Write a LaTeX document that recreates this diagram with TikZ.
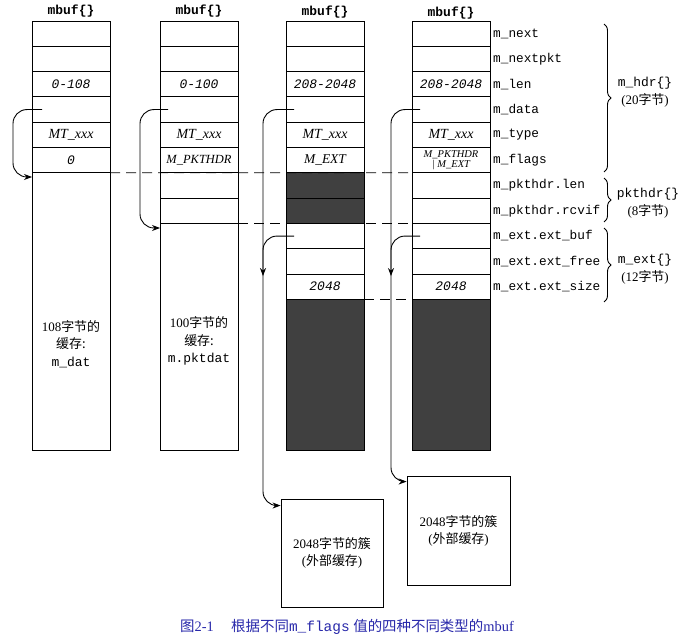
\documentclass[tikz,border=0pt]{standalone}
\usepackage{fontspec}
\setmainfont{Liberation Serif}
\setmonofont{Liberation Mono}
\newfontfamily\cjk{Noto Sans CJK SC}
\usetikzlibrary{calc,arrows.meta,decorations.pathreplacing}
\definecolor{capblue}{RGB}{40,40,170}
\begin{document}
\begin{tikzpicture}[x=1bp,y=-1bp,
  cell/.style={draw, line width=0.9bp, fill=white, minimum width=78bp, minimum height=25.3bp, inner sep=0pt, outer sep=0pt},
  shadecell/.style={cell, fill=black!75},
  hdr/.style={font=\ttfamily\bfseries\fontsize{13}{15}\selectfont},
  num/.style={font=\ttfamily\itshape\fontsize{13}{15}\selectfont},
  flag/.style={font=\itshape\fontsize{12.5}{14}\selectfont},
  mtx/.style={font=\itshape\fontsize{14}{15}\selectfont},
  fld/.style={font=\ttfamily\fontsize{12.8}{15}\selectfont, anchor=west, inner sep=0pt},
  cjktxt/.style={font=\fontsize{13}{17.5}\selectfont, align=center},
  clus/.style={draw, line width=0.9bp, fill=white, inner sep=0pt, font=\fontsize{13}{17}\selectfont, align=center},
  ptr/.style={line width=0.9bp, rounded corners=14bp, -{Stealth[length=8bp,width=6bp]}},
  dashline/.style={line width=0.8bp, dash pattern=on 10bp off 6bp},
  brc/.style={decorate, decoration={brace, amplitude=7bp}, line width=0.9bp}
]
\useasboundingbox (0,0) rectangle (687,642);

% column 1
\foreach \i in {1,...,6} \node[cell] (a\i) at (71,{21+25.3*(\i-0.5)}) {};
\node[cell, minimum height=277.2bp] (A) at (71,311.4) {};
% column 2
\foreach \i in {1,...,8} \node[cell] (b\i) at (199,{21+25.3*(\i-0.5)}) {};
\node[cell, minimum height=226.6bp] (B) at (199,336.7) {};
% column 3
\foreach \i in {1,...,6,9,10,11} \node[cell] (c\i) at (325,{21+25.3*(\i-0.5)}) {};
\node[shadecell] (c7) at (325,{21+25.3*6.5}) {};
\node[shadecell] (c8) at (325,{21+25.3*7.5}) {};
\node[shadecell, minimum height=150.7bp] (C) at (325,374.65) {};
% column 4
\foreach \i in {1,...,11} \node[cell] (d\i) at (451,{21+25.3*(\i-0.5)}) {};
\node[shadecell, minimum height=150.7bp] (D) at (451,374.65) {};

% headers
\node[hdr] (h1) at (71,11) {mbuf\{\}};
\node[hdr] (h2) at (199,11) {mbuf\{\}};
\node[hdr] (h3) at (325,12) {mbuf\{\}};
\node[hdr] (h4) at (451,13) {mbuf\{\}};

% cell texts
\node[num] (ta3) at (a3) {0-108};
\node[mtx] (ta5) at (a5) {MT\_xxx};
\node[num] (ta6) at (a6) {0};
\node[num] (tb3) at (b3) {0-100};
\node[mtx] (tb5) at (b5) {MT\_xxx};
\node[flag] (tb6) at (b6) {M\_PKTHDR};
\node[num] (tc3) at (c3) {208-2048};
\node[mtx] (tc5) at (c5) {MT\_xxx};
\node[flag, font=\itshape\fontsize{13.5}{14}\selectfont] (tc6) at (c6) {M\_EXT};
\node[num] (tc11) at (c11) {2048};
\node[num] (td3) at (d3) {208-2048};
\node[mtx] (td5) at (d5) {MT\_xxx};
\node[flag, font=\itshape\fontsize{10.5}{10.5}\selectfont, align=center] (td6) at (d6) {M\_PKTHDR\\| M\_EXT};
\node[num] (td11) at (d11) {2048};

\node[cjktxt] (tA) at (71,344) {108{\cjk 字节的}\\{\cjk 缓存:}\\\texttt{m\_dat}};
\node[cjktxt] (tB) at (199,341) {100{\cjk 字节的}\\{\cjk 缓存:}\\\texttt{m.pktdat}};

% field labels
\foreach \t [count=\i] in {m\_next,m\_nextpkt,m\_len,m\_data,m\_type,m\_flags,m\_pkthdr.len,m\_pkthdr.rcvif,m\_ext.ext\_buf,m\_ext.ext\_free,m\_ext.ext\_size}
  \node[fld] (f\i) at (493,{21+25.3*(\i-0.5)}) {\t};

% braces
\draw[brc] (604,24) -- (604,172);
\draw[brc] (604,178) -- (604,222);
\draw[brc] (604,228) -- (604,302);
\node[cjktxt] (lh) at (645,92) {\texttt{m\_hdr\{\}}\\(20{\cjk 字节})};
\node[cjktxt] (lp) at (648,203) {\texttt{pkthdr\{\}}\\(8{\cjk 字节})};
\node[cjktxt] (le) at (645,269) {\texttt{m\_ext\{\}}\\(12{\cjk 字节})};

% dashed lines
\draw[dashline] (a6.south east) -- (d7.north west);
\draw[dashline] (b8.south east) -- (d8.south west);
\draw[dashline] (c11.south east) -- (d11.south west);

% clusters
\node[clus, minimum width=102bp, minimum height=108bp] (k1) at (332,553) {2048{\cjk 字节的簇}\\({\cjk 外部缓存})};
\node[clus, minimum width=103bp, minimum height=109bp] (k2) at (458.5,530.5) {2048{\cjk 字节的簇}\\({\cjk 外部缓存})};

% pointers
\coordinate (s1) at ($(a4.west)+(10,0)$);
\coordinate (e1) at ($(A.north west)+(0,4.2)$);
\coordinate (s2) at ($(b4.west)+(8,0)$);
\coordinate (e2) at ($(B.north west)+(0,4.6)$);
\coordinate (s3) at ($(c4.west)+(8,0)$);
\coordinate (e3) at ($(k1.north west)+(0,7)$);
\coordinate (s4) at ($(c9.west)+(8,0)$);
\coordinate (s5) at ($(d4.west)+(8,0)$);
\coordinate (e5) at ($(k2.north west)+(0,6)$);
\coordinate (s6) at ($(d9.west)+(8,0)$);
\draw[ptr] (s1) -- ++(-29,0) |- (e1);
\draw[ptr] (s2) -- ++(-28,0) |- (e2);
\draw[ptr] (s3) -- ++(-31,0) |- (e3);
\draw[ptr] (s4) -- ++(-31,0) -- ++(0,40);
\draw[ptr] (s5) -- ++(-29,0) |- (e5);
\draw[ptr] (s6) -- ++(-29,0) -- ++(0,40);

% caption
\node[font=\fontsize{14.5}{16}\selectfont, text=capblue] (cap) at (347,627)
  {{\cjk 图}2-1\hspace{1.2em}{\cjk 根据不同}\texttt{m\_flags} {\cjk 值的四种不同类型的}mbuf};
\end{tikzpicture}
\end{document}
